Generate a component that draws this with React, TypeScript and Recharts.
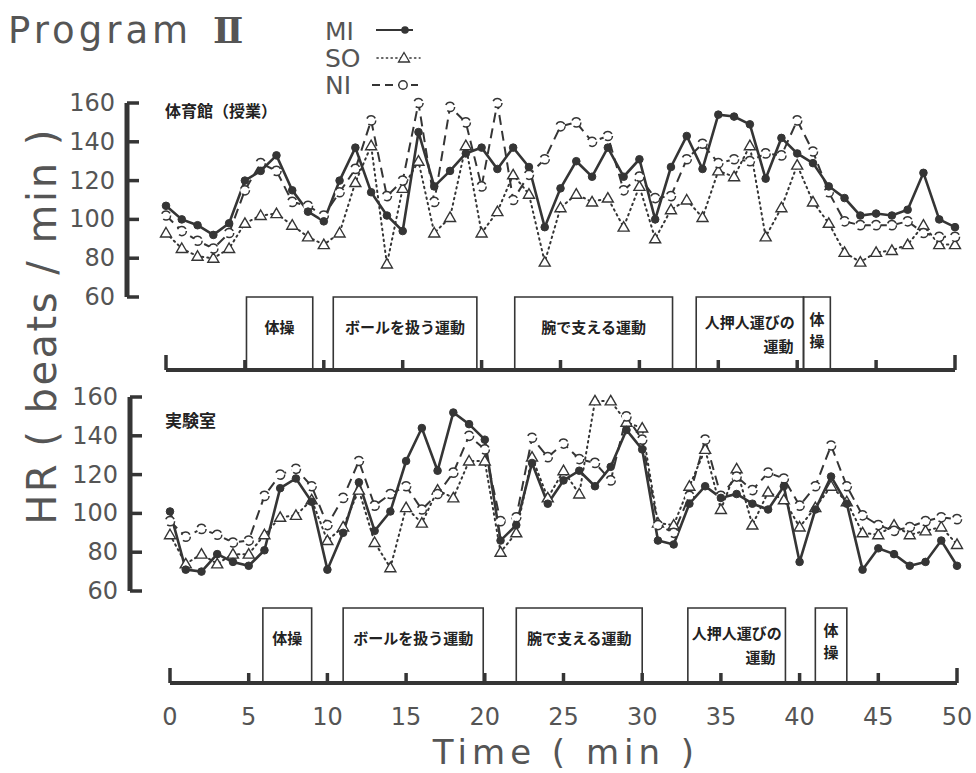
import React from 'react';
import { ComposedChart, Line, XAxis, YAxis, ReferenceArea } from 'recharts';

// ---------- data ----------
const minutes = [
  0, 1, 2, 3, 4, 5, 6, 7, 8, 9, 10, 11, 12, 13, 14, 15, 16, 17, 18, 19, 20,
  21, 22, 23, 24, 25, 26, 27, 28, 29, 30, 31, 32, 33, 34, 35, 36, 37, 38, 39, 40,
  41, 42, 43, 44, 45, 46, 47, 48, 49, 50,
];

// 体育館（授業）
const gymMI = [107, 100, 97, 92, 98, 120, 125, 133, 115, 104, 99, 120, 137, 114, 102, 94, 145, 117, 125, 134, 137, 126, 137, 127, 96, 116, 130, 122, 137, 122, 131, 100, 127, 143, 126, 154, 153, 149, 121, 142, 134, 129, 117, 111, 102, 103, 102, 105, 124, 100, 96];
const gymSO = [93, 85, 81, 80, 85, 98, 102, 103, 97, 91, 87, 93, 119, 138, 77, 116, 130, 93, 101, 138, 93, 104, 123, 113, 78, 106, 113, 109, 111, 96, 117, 90, 105, 110, 101, 125, 122, 138, 91, 106, 128, 109, 98, 83, 78, 83, 84, 87, 97, 87, 87];
const gymNI = [102, 94, 89, 85, 93, 115, 129, 125, 109, 107, 102, 114, 126, 151, 112, 120, 160, 109, 158, 150, 117, 160, 110, 123, 131, 148, 150, 140, 143, 115, 122, 111, 112, 131, 139, 129, 131, 130, 134, 133, 151, 135, 114, 99, 97, 97, 97, 99, 93, 91, 91];

// 実験室
const labMI = [101, 71, 70, 79, 75, 73, 81, 113, 118, 106, 71, 90, 116, 91, 101, 127, 144, 122, 152, 146, 138, 86, 94, 126, 105, 117, 122, 114, 124, 143, 133, 86, 84, 105, 114, 108, 110, 105, 102, 114, 75, 102, 119, 105, 71, 82, 79, 73, 75, 86, 73];
const labSO = [89, 74, 79, 74, 79, 79, 89, 98, 99, 107, 86, 93, 112, 85, 72, 103, 95, 112, 108, 127, 127, 80, 90, 129, 108, 122, 110, 158, 158, 147, 144, 95, 94, 114, 133, 102, 123, 94, 111, 107, 93, 103, 114, 106, 90, 89, 94, 89, 91, 93, 84];
const labNI = [96, 88, 92, 89, 85, 86, 109, 120, 123, 114, 94, 108, 127, 104, 110, 114, 102, 110, 121, 140, 133, 96, 98, 139, 129, 136, 128, 126, 117, 150, 138, 94, 90, 109, 138, 109, 119, 112, 121, 118, 104, 114, 135, 114, 99, 94, 91, 93, 96, 98, 97];

const yTicks = [60, 80, 100, 120, 140, 160];
const timeTicks = [0, 5, 10, 15, 20, 25, 30, 35, 40, 45, 50];

// activity periods (min)
const activityLabels = [['体操'], ['ボールを扱う運動'], ['腕で支える運動'], ['人押人運びの', '運動'], ['体', '操']];
const activityLayouts = ['one', 'one', 'one', 'two', 'vert'];
const gymStart = [5.1, 10.6, 22.1, 33.6, 40.4];
const gymEnd = [9.3, 19.7, 32.1, 40.4, 42.1];
const labStart = [5.9, 11.0, 22.0, 32.9, 41.0];
const labEnd = [9.0, 19.9, 30.0, 39.1, 43.0];

const seriesNames = ['MI', 'SO', 'NI'];

const gymData = minutes.map((t, i) => ({ t, MI: gymMI[i], SO: gymSO[i], NI: gymNI[i] }));
const labData = minutes.map((t, i) => ({ t, MI: labMI[i], SO: labSO[i], NI: labNI[i] }));
const stripData = timeTicks.map((t) => ({ t, band: 1 }));

// ---------- style ----------
const INK = '#353535';
const TEXT = '#555';
const W = 976;
const H = 773;
const JP = '"Noto Sans CJK JP", "Noto Sans CJK SC", sans-serif';
const LAT = '"DejaVu Sans", sans-serif';

const TriangleDot = (props: any) => {
  const { cx, cy, index } = props;
  if (cx == null || cy == null) return null;
  return (
    <path
      key={`tri-${index}`}
      d={`M${cx},${cy - 5.5} L${cx + 5.5},${cy + 4} L${cx - 5.5},${cy + 4} Z`}
      fill="#fff"
      stroke={INK}
      strokeWidth={1.4}
    />
  );
};

const YTick = (props: any) => {
  const { x, y, payload } = props;
  return (
    <g>
      <line x1={x + 12} x2={x + 24} y1={y} y2={y} stroke={INK} strokeWidth={3.5} />
      <text x={x} y={y} dy={8} textAnchor="end" fontSize={24} fill={TEXT} fontFamily={LAT}>
        {payload.value}
      </text>
    </g>
  );
};

const XTick = (props: any) => {
  const { x, y, payload, showLabel } = props;
  const end = payload.value === 0 || payload.value === 50;
  return (
    <g>
      <line x1={x} x2={x} y1={y} y2={y - (end ? 15 : 10)} stroke={INK} strokeWidth={3.5} />
      {showLabel && (
        <text x={x} y={y + 42} textAnchor="middle" fontSize={24} fill={TEXT} fontFamily={LAT}>
          {payload.value}
        </text>
      )}
    </g>
  );
};

const renderBoxLabel = (p: any, lines: string[], layout: string) => {
  const vb = p.viewBox || {};
  const { x, y, width } = vb;
  const cx = x + width / 2;
  const common = { fontSize: 15, fill: '#222', fontFamily: JP, fontWeight: 700 };
  if (layout === 'two') {
    return (
      <g>
        <text x={cx} y={y + 31} textAnchor="middle" {...common}>{lines[0]}</text>
        <text x={x + width - 10} y={y + 55} textAnchor="end" {...common}>{lines[1]}</text>
      </g>
    );
  }
  if (layout === 'vert') {
    return (
      <g>
        <text x={cx} y={y + 28} textAnchor="middle" {...common}>{lines[0]}</text>
        <text x={cx} y={y + 50} textAnchor="middle" {...common}>{lines[1]}</text>
      </g>
    );
  }
  return (
    <text x={cx} y={y + 36} textAnchor="middle" {...common}>{lines[0]}</text>
  );
};

type PanelProps = {
  data: any[];
  top: number;
  bottom: number;
  axisX: number;
  x0: number;
  x50: number;
};

const HRPanel = ({ data, top, bottom, axisX, x0, x50 }: PanelProps) => {
  const plotRight = 960;
  return (
    <div style={{ position: 'absolute', left: 0, top: 0 }}>
      <ComposedChart
        width={W}
        height={H}
        data={data}
        margin={{ top, bottom: H - bottom, left: axisX - 60, right: W - plotRight }}
      >
        <XAxis
          dataKey="t"
          type="number"
          domain={[0, 50]}
          hide
          padding={{ left: x0 - axisX, right: plotRight - x50 }}
        />
        <YAxis
          type="number"
          domain={[60, 160]}
          ticks={yTicks}
          interval={0}
          width={60}
          axisLine={{ stroke: INK, strokeWidth: 5 }}
          tickLine={false}
          tickSize={0}
          tickMargin={12}
          tick={<YTick />}
        />
        <Line
          dataKey={seriesNames[1]}
          type="linear"
          stroke={INK}
          strokeWidth={2}
          strokeDasharray="1.5 4"
          strokeLinecap="round"
          dot={(p: any) => <TriangleDot {...p} />}
          isAnimationActive={false}
        />
        <Line
          dataKey={seriesNames[2]}
          type="linear"
          stroke={INK}
          strokeWidth={2}
          strokeDasharray="10 6"
          dot={{ r: 4.6, fill: '#fff', stroke: INK, strokeWidth: 1.5 }}
          isAnimationActive={false}
        />
        <Line
          dataKey={seriesNames[0]}
          type="linear"
          stroke={INK}
          strokeWidth={2.6}
          dot={{ r: 3.8, fill: INK, stroke: INK, strokeWidth: 1 }}
          isAnimationActive={false}
        />
      </ComposedChart>
    </div>
  );
};

type StripProps = {
  top: number;
  axisY: number;
  x0: number;
  x50: number;
  starts: number[];
  ends: number[];
  showLabels: boolean;
};

const Strip = ({ top, axisY, x0, x50, starts, ends, showLabels }: StripProps) => (
  <div style={{ position: 'absolute', left: 0, top: 0 }}>
    <ComposedChart
      width={W}
      height={H}
      data={stripData}
      margin={{ top, left: x0, right: W - x50, bottom: H - axisY - 50 }}
    >
      <XAxis
        dataKey="t"
        type="number"
        domain={[0, 50]}
        ticks={timeTicks}
        interval={0}
        height={50}
        axisLine={{ stroke: INK, strokeWidth: 4 }}
        tickLine={false}
        tickSize={0}
        tickMargin={0}
        tick={<XTick showLabel={showLabels} />}
      />
      <YAxis hide type="number" dataKey="band" domain={[0, 1]} allowDataOverflow width={0} />
      <Line dataKey="band" stroke="none" dot={false} activeDot={false} isAnimationActive={false} legendType="none" />
      {starts.map((s, i) => (
        <ReferenceArea
          key={`box-${i}`}
          x1={s}
          x2={ends[i]}
          y1={0}
          y2={1}
          fill="#fff"
          fillOpacity={0}
          stroke={INK}
          strokeWidth={1.6}
          ifOverflow="visible"
          label={(p: any) => renderBoxLabel(p, activityLabels[i], activityLayouts[i])}
        />
      ))}
    </ComposedChart>
  </div>
);

const Legend = () => (
  <svg width={W} height={H} style={{ position: 'absolute', left: 0, top: 0 }}>
    <text x={325} y={40} fontSize={25} fill={TEXT} fontFamily={LAT}>MI</text>
    <line x1={376} x2={413} y1={30} y2={30} stroke={INK} strokeWidth={2.2} />
    <circle cx={405} cy={30} r={3.8} fill={INK} />
    <text x={325} y={67} fontSize={25} fill={TEXT} fontFamily={LAT}>SO</text>
    <line x1={377} x2={420} y1={58} y2={58} stroke={INK} strokeWidth={1.6} strokeDasharray="1.2 3.5" strokeLinecap="round" />
    <path d="M404,52.5 L409.5,62 L398.5,62 Z" fill="#fff" stroke={INK} strokeWidth={1.3} />
    <text x={325} y={94} fontSize={25} fill={TEXT} fontFamily={LAT}>NI</text>
    <line x1={372} x2={418} y1={85} y2={85} stroke={INK} strokeWidth={1.8} strokeDasharray="8 5" />
    <circle cx={403} cy={85} r={4.2} fill="#fff" stroke={INK} strokeWidth={1.4} />
  </svg>
);

const Texts = () => (
  <svg width={W} height={H} style={{ position: 'absolute', left: 0, top: 0 }}>
    <text x={8} y={43} fontSize={37} fill={TEXT} fontFamily={LAT} letterSpacing={4}>Program</text>
    <text x={213} y={43} fontSize={36} fill={TEXT} fontFamily='"DejaVu Serif", serif' fontWeight={700}>Ⅱ</text>
    <text
      x={56}
      y={326}
      fontSize={40}
      fill={TEXT}
      fontFamily={LAT}
      textAnchor="middle"
      letterSpacing={2.5}
      transform="rotate(-90 56 326)"
    >
      HR ( beats / min )
    </text>
    <text x={566} y={764} fontSize={34} fill={TEXT} fontFamily={LAT} textAnchor="middle" letterSpacing={5}>
      Time ( min )
    </text>
    <text x={165} y={117} fontSize={16} fill="#222" fontFamily={JP} fontWeight={700}>体育館（授業）</text>
    <text x={165} y={427} fontSize={17} fill="#222" fontFamily={JP} fontWeight={700}>実験室</text>
  </svg>
);

export default function App() {
  return (
    <div
      style={{
        position: 'absolute',
        left: 0,
        top: 0,
        width: W,
        height: H,
        background: '#fff',
        overflow: 'hidden',
        fontFamily: LAT,
      }}
    >
      <Texts />
      <Legend />
      <Strip top={297} axisY={370} x0={166} x50={955} starts={gymStart} ends={gymEnd} showLabels={false} />
      <Strip top={608} axisY={683} x0={170} x50={957} starts={labStart} ends={labEnd} showLabels={true} />
      <HRPanel data={gymData} top={103} bottom={297} axisX={127} x0={166} x50={955} />
      <HRPanel data={labData} top={397} bottom={591} axisX={130} x0={170} x50={957} />
    </div>
  );
}
